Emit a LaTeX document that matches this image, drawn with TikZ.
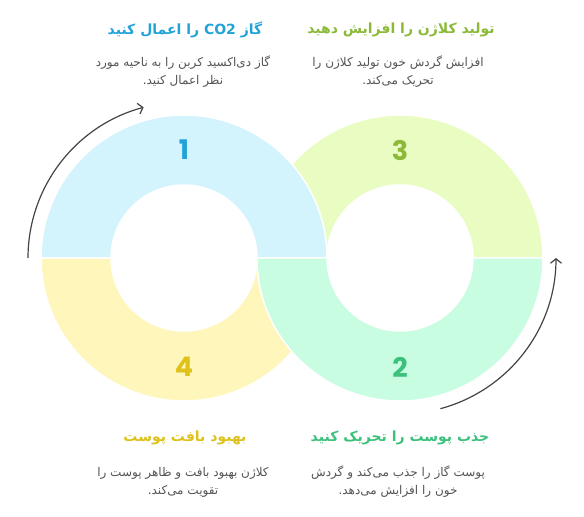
\documentclass[tikz,border=0pt]{standalone}
\usepackage{fontspec}
\usepackage{tikz}
\usetikzlibrary{positioning,arrows.meta}
\TeXXeTstate=1
\newfontfamily\farsi[Script=Arabic]{DejaVu Sans}
\newfontfamily\numfont{Poppins}

\definecolor{fillblue}{HTML}{D3F3FD}
\definecolor{filllime}{HTML}{E9FDC2}
\definecolor{fillyellow}{HTML}{FEF6BB}
\definecolor{fillmint}{HTML}{C8FDE2}
\definecolor{textblue}{HTML}{22A3D8}
\definecolor{textlime}{HTML}{8CBA38}
\definecolor{textyellow}{HTML}{DEC21A}
\definecolor{textmint}{HTML}{3CC17C}
\definecolor{desctext}{HTML}{555555}
\definecolor{arrowgray}{HTML}{444444}

\begin{document}
\begin{tikzpicture}[x=1pt,y=1pt,
    half/.style={draw=white,line width=1.5pt,line join=round},
    num/.style={font=\numfont\bfseries\fontsize{27}{27}\selectfont,inner sep=0pt},
    title/.style={font=\farsi\bfseries\fontsize{14}{16}\selectfont,inner sep=0pt},
    desc/.style={font=\farsi\fontsize{12}{18}\selectfont,text=desctext,align=center,inner sep=0pt},
    flow/.style={draw=arrowgray,line width=1.2pt,-{Straight Barb[length=4.5pt,width=11pt]}}]
    \fill[white] (0,0) rectangle (584,517);
    \useasboundingbox (0,0) rectangle (584,517);

    % ring centres
    \coordinate (lc) at (184,259);
    \coordinate (rc) at (400,259);

    % bottom left, then top right
    \path[half,fill=fillyellow] ([shift={(-143,0)}]lc) arc[start angle=180,end angle=360,radius=143]
        -- ([shift={(73,0)}]lc) arc[start angle=0,end angle=-180,radius=73] -- cycle;
    \path[half,fill=filllime] ([shift={(143,0)}]rc) arc[start angle=0,end angle=180,radius=143]
        -- ([shift={(-73,0)}]rc) arc[start angle=180,end angle=0,radius=73] -- cycle;

    % top left, then bottom right (over the others)
    \path[half,fill=fillblue] ([shift={(143,0)}]lc) arc[start angle=0,end angle=180,radius=143]
        -- ([shift={(-73,0)}]lc) arc[start angle=180,end angle=0,radius=73] -- cycle;
    \path[half,fill=fillmint] ([shift={(-143,0)}]rc) arc[start angle=180,end angle=360,radius=143]
        -- ([shift={(73,0)}]rc) arc[start angle=0,end angle=-180,radius=73] -- cycle;

    % numbers
    \node[num,text=textblue] (n1) at (184,367) {1};
    \node[num,text=textmint] (n2) at (400,150) {2};
    \node[num,text=textlime] (n3) at (400,367) {3};
    \node[num,text=textyellow] (n4) at (184,150) {4};

    % arrows
    \coordinate (a1) at ([shift={(180:156)}]lc);
    \coordinate (a2) at ([shift={(-75:156)}]rc);
    \draw[flow] (a1) arc[start angle=180,end angle=105,radius=156];
    \draw[flow] (a2) arc[start angle=-75,end angle=0,radius=156];

    % step 1
    \node[title,text=textblue] (t1) at (185,487) {\beginR گاز \beginL CO2\endL{} را اعمال کنید\endR};
    \node[desc] (d1) at (183,445) {\beginR گاز دی‌اکسید کربن را به ناحیه مورد\endR\\\beginR نظر اعمال کنید.\endR};

    % step 3
    \node[title,text=textlime] (t3) at (401,487) {\beginR تولید کلاژن را افزایش دهید\endR};
    \node[desc] (d3) at (398,445) {\beginR افزایش گردش خون تولید کلاژن را\endR\\\beginR تحریک می‌کند.\endR};

    % step 4
    \node[title,text=textyellow] (t4) at (185,79) {\beginR بهبود بافت پوست\endR};
    \node[desc] (d4) at (183,35) {\beginR کلاژن بهبود بافت و ظاهر پوست را\endR\\\beginR تقویت می‌کند.\endR};

    % step 2
    \node[title,text=textmint] (t2) at (400,79) {\beginR جذب پوست را تحریک کنید\endR};
    \node[desc] (d2) at (398,35) {\beginR پوست گاز را جذب می‌کند و گردش\endR\\\beginR خون را افزایش می‌دهد.\endR};
\end{tikzpicture}
\end{document}
